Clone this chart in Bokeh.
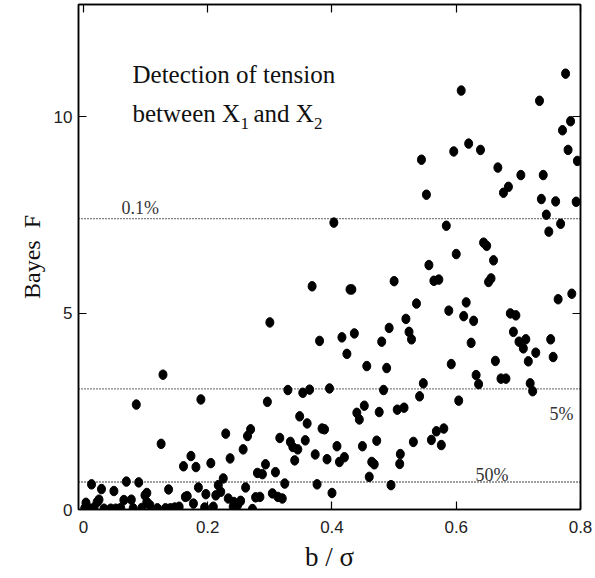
from bokeh.plotting import figure
from bokeh.models import Span, Label, LinearAxis, FixedTicker, Range1d, ColumnDataSource
from bokeh.embed import file_html
from bokeh.resources import INLINE

# ---------------- data ----------------
b_over_sigma = [
    0.776, 0.608, 0.734, 0.784, 0.771, 0.780, 0.795, 0.544, 0.596, 0.620,
    0.639, 0.667, 0.704, 0.740, 0.684, 0.676, 0.552, 0.737, 0.760, 0.793,
    0.745, 0.768, 0.749, 0.584, 0.403, 0.644, 0.649, 0.600, 0.660, 0.556,
    0.564, 0.572, 0.652, 0.656, 0.368, 0.429, 0.432, 0.500, 0.786, 0.764,
    0.536, 0.616, 0.588, 0.687, 0.696, 0.612, 0.628, 0.519, 0.300, 0.492,
    0.524, 0.528, 0.436, 0.416, 0.380, 0.480, 0.624, 0.692, 0.712, 0.701,
    0.752, 0.708, 0.728, 0.756, 0.716, 0.424, 0.456, 0.488, 0.592, 0.663,
    0.632, 0.636, 0.672, 0.680, 0.128, 0.547, 0.719, 0.723, 0.329, 0.353,
    0.364, 0.396, 0.483, 0.541, 0.516, 0.505, 0.604, 0.580, 0.568, 0.560,
    0.576, 0.531, 0.296, 0.348, 0.360, 0.384, 0.388, 0.440, 0.444, 0.452,
    0.476, 0.269, 0.264, 0.257, 0.316, 0.333, 0.337, 0.345, 0.357, 0.340,
    0.373, 0.392, 0.408, 0.412, 0.420, 0.449, 0.472, 0.464, 0.468, 0.460,
    0.510, 0.509, 0.293, 0.280, 0.288, 0.309, 0.324, 0.376, 0.400, 0.495,
    0.261, 0.253, 0.272, 0.277, 0.284, 0.304, 0.313, 0.320, 0.085, 0.189,
    0.125, 0.229, 0.236, 0.173, 0.161, 0.181, 0.205, 0.013, 0.029, 0.049,
    0.069, 0.089, 0.102, 0.099, 0.137, 0.185, 0.197, 0.225, 0.217, 0.221,
    0.213, 0.167, 0.164, 0.177, 0.233, 0.242, 0.248, 0.241, 0.195, 0.209,
    0.065, 0.077, 0.080, 0.094, 0.102, 0.107, 0.119, 0.132, 0.140, 0.147,
    0.154, 0.004, 0.006, 0.002, 0.017, 0.022, 0.025, 0.033, 0.044, 0.052,
    0.060,
]
bayes_F = [
    11.09, 10.66, 10.40, 9.88, 9.65, 9.15, 8.87, 8.90, 9.11, 9.31,
    9.15, 8.70, 8.51, 8.51, 8.21, 8.06, 8.01, 7.90, 7.84, 7.83,
    7.50, 7.27, 7.07, 7.22, 7.30, 6.79, 6.71, 6.50, 6.34, 6.22,
    5.82, 5.85, 5.79, 5.88, 5.68, 5.60, 5.60, 5.81, 5.49, 5.35,
    5.24, 5.27, 5.06, 4.99, 4.94, 4.92, 4.80, 4.85, 4.76, 4.62,
    4.52, 4.33, 4.48, 4.38, 4.29, 4.27, 4.24, 4.52, 4.33, 4.27,
    4.33, 4.10, 3.99, 3.88, 3.77, 3.96, 3.65, 3.60, 3.70, 3.78,
    3.42, 3.19, 3.33, 3.33, 3.43, 3.21, 3.21, 3.01, 3.04, 2.97,
    3.05, 3.08, 3.04, 2.88, 2.59, 2.54, 2.77, 2.06, 1.99, 1.77,
    1.64, 1.72, 2.74, 2.37, 2.19, 2.06, 2.04, 2.46, 2.29, 2.64,
    2.48, 2.04, 1.87, 1.53, 1.82, 1.72, 1.59, 1.53, 1.76, 1.25,
    1.40, 1.28, 1.61, 1.21, 1.33, 1.61, 1.75, 1.21, 1.15, 0.83,
    1.41, 1.16, 1.15, 0.93, 0.90, 0.95, 0.66, 0.64, 0.42, 0.62,
    0.56, 0.22, 0.01, 0.31, 0.32, 0.41, 0.32, 0.28, 2.67, 2.80,
    1.67, 1.93, 1.30, 1.36, 1.10, 1.08, 1.18, 0.64, 0.52, 0.47,
    0.71, 0.69, 0.42, 0.36, 0.51, 0.56, 0.39, 0.79, 0.62, 0.45,
    0.36, 0.34, 0.32, 0.15, 0.28, 0.19, 0.11, 0.07, 0.05, 0.07,
    0.24, 0.25, 0.03, 0.04, 0.19, 0.11, 0.03, 0.03, 0.03, 0.05,
    0.07, 0.17, 0.07, 0.03, 0.05, 0.19, 0.25, 0.02, 0.02, 0.02,
    0.04,
]
threshold_levels = [7.40, 3.07, 0.70]
threshold_labels = ["0.1%", "5%", "50%"]
x_ticks = [0, 0.2, 0.4, 0.6, 0.8]
x_tick_labels = ["0", "0.2", "0.4", "0.6", "0.8"]
y_ticks = [0, 5, 10]
y_tick_labels = ["0", "5", "10"]

# ---------------- figure ----------------
SERIF = "Liberation Serif"
SANS = "Liberation Sans"

p = figure(width=595, height=578,
           x_range=Range1d(-0.008, 0.8), y_range=Range1d(0, 12.85),
           output_backend="svg", toolbar_location=None,
           min_border_left=78, min_border_right=15,
           min_border_top=4, min_border_bottom=69,
           x_axis_label="b / σ", y_axis_label="Bayes\u00a0\u00a0F")
p.grid.visible = False
p.outline_line_color = "black"
p.outline_line_width = 1.5
p.background_fill_color = "white"
p.border_fill_color = "white"

for ax, ticks, labels in ((p.xaxis[0], x_ticks, x_tick_labels),
                          (p.yaxis[0], y_ticks, y_tick_labels)):
    ax.ticker = FixedTicker(ticks=ticks)
    ax.major_label_overrides = dict(zip(ticks, labels))
    ax.major_tick_in = 8
    ax.major_tick_out = 0
    ax.minor_tick_line_color = None
    ax.axis_line_color = "black"
    ax.axis_line_width = 1.5
    ax.major_tick_line_width = 1.2
    ax.major_label_text_font = SANS
    ax.major_label_text_font_size = "17px"
    ax.major_label_text_color = "#222222"
    ax.axis_label_text_font = SERIF
    ax.axis_label_text_font_style = "normal"
    ax.axis_label_text_color = "#111111"

p.xaxis[0].major_label_standoff = 11
p.xaxis[0].axis_label_standoff = 6
p.xaxis[0].axis_label_text_font_size = "27px"
p.yaxis[0].major_label_standoff = 6
p.yaxis[0].axis_label_standoff = 6
p.yaxis[0].axis_label_text_font_size = "24px"

# tick-only axes on the top and right (labels not painted)
for ticks, side in ((x_ticks, "above"), (y_ticks, "right")):
    ax = LinearAxis(ticker=FixedTicker(ticks=ticks),
                    major_label_text_font_size="1px",
                    major_label_text_color=None,
                    major_label_standoff=0,
                    major_tick_in=8, major_tick_out=0,
                    major_tick_line_width=1.2,
                    minor_tick_line_color=None,
                    axis_line_color="black", axis_line_width=1.5)
    p.add_layout(ax, side)

# threshold lines
for lvl in threshold_levels:
    p.add_layout(Span(location=lvl, dimension="width", line_color="black",
                      line_width=1.3, line_dash="1 2"))

# points
src = ColumnDataSource(dict(x=b_over_sigma, y=bayes_F))
p.ellipse(x="x", y="y", width=8, height=9.5, width_units="screen",
          height_units="screen", source=src, fill_color="black",
          line_color="black")

# threshold labels
label_pos = [(0.0612, 7.67, "left"), (0.7887, 2.435, "right"), (0.631, 0.89, "left")]
for (lx, ly, al), txt in zip(label_pos, threshold_labels):
    p.add_layout(Label(x=lx, y=ly, text=txt, text_font=SERIF,
                       text_font_size="18px", text_color="#333333",
                       text_align=al, text_baseline="alphabetic"))

# annotation text
ann = [
    (0.0789, 11.07, "Detection of tension", "25px"),
    (0.0789, 10.08, "between X", "25px"),
    (0.2528, 9.82, "1", "17px"),
    (0.2737, 10.08, "and X", "25px"),
    (0.3709, 9.82, "2", "17px"),
]
for ax_, ay_, txt, fs in ann:
    p.add_layout(Label(x=ax_, y=ay_, text=txt, text_font=SERIF,
                       text_font_size=fs, text_color="#111111",
                       text_baseline="alphabetic"))

open("out.html", "w").write(file_html(p, INLINE))
